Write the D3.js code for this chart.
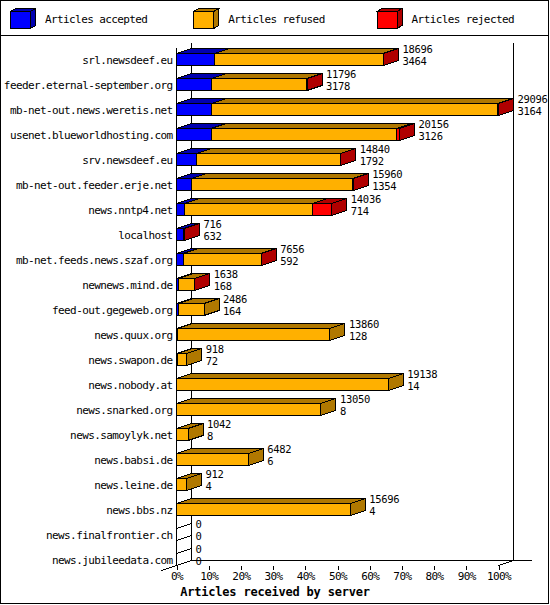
<!DOCTYPE html>
<html>
<head>
<meta charset="utf-8">
<script src="https://cdn.jsdelivr.net/npm/d3@7"></script>
<style>
  body { margin: 0; background: #fff; }
  svg text { font-family: "DejaVu Sans Mono", monospace; font-size: 11px; letter-spacing: -0.6px; fill: #000; }
  svg text.val { font-size: 10.5px; letter-spacing: -0.3px; }
</style>
</head>
<body>
<script>
// servers, top to bottom
const servers = [
  "srl.newsdeef.eu", "feeder.eternal-september.org", "mb-net-out.news.weretis.net",
  "usenet.blueworldhosting.com", "srv.newsdeef.eu", "mb-net-out.feeder.erje.net",
  "news.nntp4.net", "localhost", "mb-net.feeds.news.szaf.org", "newnews.mind.de",
  "feed-out.gegeweb.org", "news.quux.org", "news.swapon.de", "news.nobody.at",
  "news.snarked.org", "news.samoylyk.net", "news.babsi.de", "news.leine.de",
  "news.bbs.nz", "news.finalfrontier.ch", "news.jubileedata.com"
];
// totals printed next to the bars
const totals   = [18696, 11796, 29096, 20156, 14840, 15960, 14036, 716, 7656, 1638, 2486, 13860, 918, 19138, 13050, 1042, 6482, 912, 15696, 0, 0];
const accepted = [3464, 3178, 3164, 3126, 1792, 1354, 714, 632, 592, 168, 164, 128, 72, 14, 8, 8, 6, 4, 4, 0, 0];
const refused  = [15202, 8593, 25872, 16760, 13028, 14586, 11602, 0, 7044, 1450, 2322, 13732, 846, 19124, 13042, 1034, 6476, 908, 15692, 0, 0];
const rejected = [30, 25, 60, 270, 20, 20, 1720, 84, 20, 20, 0, 0, 0, 0, 0, 0, 0, 0, 0, 0, 0];

const seriesNames = ["Articles accepted", "Articles refused", "Articles rejected"];
const front = ["#0000ff", "#ffb000", "#ff0000"];
const shade = ["#0000b0", "#b07800", "#b00000"];
const xTicks = [0, 0.1, 0.2, 0.3, 0.4, 0.5, 0.6, 0.7, 0.8, 0.9, 1];

const W = 550, H = 605;
const dx = 15, dy = -5, half = 6;
const maxTotal = d3.max(totals);

let x = d3.scaleLinear().domain([0, 1]).range([176.5, 498.5]);
let y = d3.scalePoint().domain(servers).range([59.5, 559.5]);

let svg = d3.select("body").append("svg")
  .attr("width", W).attr("height", H)
  .attr("shape-rendering", "crispEdges");

svg.append("rect").attr("x", 0.5).attr("y", 0.5).attr("width", W - 2).attr("height", H - 2)
  .attr("fill", "#fff").attr("stroke", "#000");

// legend
svg.append("line").attr("x1", 0.5).attr("x2", W - 1.5).attr("y1", 35.5).attr("y2", 35.5).attr("stroke", "#000");
let leg = svg.append("g").selectAll("g").data(seriesNames).enter().append("g")
  .attr("transform", (d, i) => `translate(${10 + i * 183.3},0)`);
leg.append("polygon")
  .attr("points", "20.5,11.5 25.5,8.5 25.5,25.5 20.5,28.5")
  .attr("fill", (d, i) => shade[i]).attr("stroke", "#000");
leg.append("polygon")
  .attr("points", "0.5,11.5 5.5,8.5 25.5,8.5 20.5,11.5")
  .attr("fill", (d, i) => shade[i]).attr("stroke", "#000");
leg.append("rect").attr("x", 0.5).attr("y", 11.5).attr("width", 20).attr("height", 17)
  .attr("fill", (d, i) => front[i]).attr("stroke", "#000");
leg.append("text").attr("x", 35).attr("y", 20).attr("dominant-baseline", "middle").text(d => d);

// walls and floor
let x0 = x(0), x1 = x(1);
let yTop = 42.5, yFloor = y(servers[servers.length - 1]) + half;
let walls = svg.append("g").attr("stroke", "#000").attr("fill", "none");
walls.append("line").attr("x1", x0 + dx).attr("x2", x0 + dx).attr("y1", yTop).attr("y2", yFloor + dy);
walls.append("line").attr("x1", x1 + dx).attr("x2", x1 + dx).attr("y1", yTop).attr("y2", yFloor + dy);
walls.append("line").attr("x1", x0).attr("x2", x0).attr("y1", yTop - dy).attr("y2", yFloor);
walls.append("line").attr("x1", x0 + dx).attr("x2", x1 + dx + 18).attr("y1", yFloor + dy).attr("y2", yFloor + dy);
walls.append("line").attr("x1", x0 - dx).attr("x2", x0 + dx).attr("y1", yFloor - dy).attr("y2", yFloor + dy);
walls.append("line").attr("x1", x1).attr("x2", x1 + dx).attr("y1", yFloor).attr("y2", yFloor + dy);

// bars
let rows = servers.map((s, i) => ({
  name: s, total: totals[i], acc: accepted[i],
  parts: [accepted[i], refused[i], rejected[i]]
}));

let bar = svg.append("g").selectAll("g").data(rows).enter().append("g");

bar.each(function(d) {
  let g = d3.select(this);
  let yc = y(d.name), t = yc - half, b = yc + half;
  if (d.total === 0) {
    g.append("polygon")
      .attr("points", [[x0, t], [x0 + dx, t + dy], [x0 + dx, b + dy], [x0, b]].join(" "))
      .attr("fill", "none").attr("stroke", "#000");
    return;
  }
  let cum = 0;
  d.parts.forEach((v, k) => {
    if (v <= 0) return;
    let a = x(cum / maxTotal), e = x((cum + v) / maxTotal);
    cum += v;
    g.append("rect").attr("x", a).attr("y", t).attr("width", e - a).attr("height", b - t)
      .attr("fill", front[k]).attr("stroke", "#000");
    g.append("polygon")
      .attr("points", [[a, t], [a + dx, t + dy], [e + dx, t + dy], [e, t]].join(" "))
      .attr("fill", shade[k]).attr("stroke", "#000");
    g.append("polygon")
      .attr("points", [[e, t], [e + dx, t + dy], [e + dx, b + dy], [e, b]].join(" "))
      .attr("fill", shade[k]).attr("stroke", "#000");
  });
});

// value labels: total on top, accepted below
bar.append("text").attr("class", "val")
  .attr("x", d => x(d.total / maxTotal) + dx + 4)
  .attr("y", d => y(d.name) - 9.5)
  .attr("dominant-baseline", "middle")
  .text(d => d.total);
bar.append("text").attr("class", "val")
  .attr("x", d => x(d.total / maxTotal) + dx + 4)
  .attr("y", d => y(d.name) + 2.5)
  .attr("dominant-baseline", "middle")
  .text(d => d.acc);

// category labels
svg.append("g").selectAll("text").data(servers).enter().append("text")
  .attr("x", 172.5).attr("y", d => y(d) + 1)
  .attr("text-anchor", "end").attr("dominant-baseline", "middle")
  .text(d => d);

// x axis
let xAxis = g => g
  .attr("transform", `translate(0,${yFloor})`)
  .call(d3.axisBottom(x).tickValues(xTicks).tickFormat(d3.format(".0%")).tickSize(4).tickPadding(3))
  .call(g => g.select(".domain").remove())
  .call(g => g.selectAll("line").attr("stroke", "#000"))
  .call(g => g.selectAll("text").attr("font-family", null).attr("font-size", null));
svg.append("g").call(xAxis);

svg.append("text")
  .attr("x", W / 2).attr("y", 592)
  .attr("text-anchor", "middle").attr("dominant-baseline", "middle")
  .style("font-weight", "bold").style("font-size", "12px").style("letter-spacing", "-0.2px")
  .text("Articles received by server");
</script>
</body>
</html>
